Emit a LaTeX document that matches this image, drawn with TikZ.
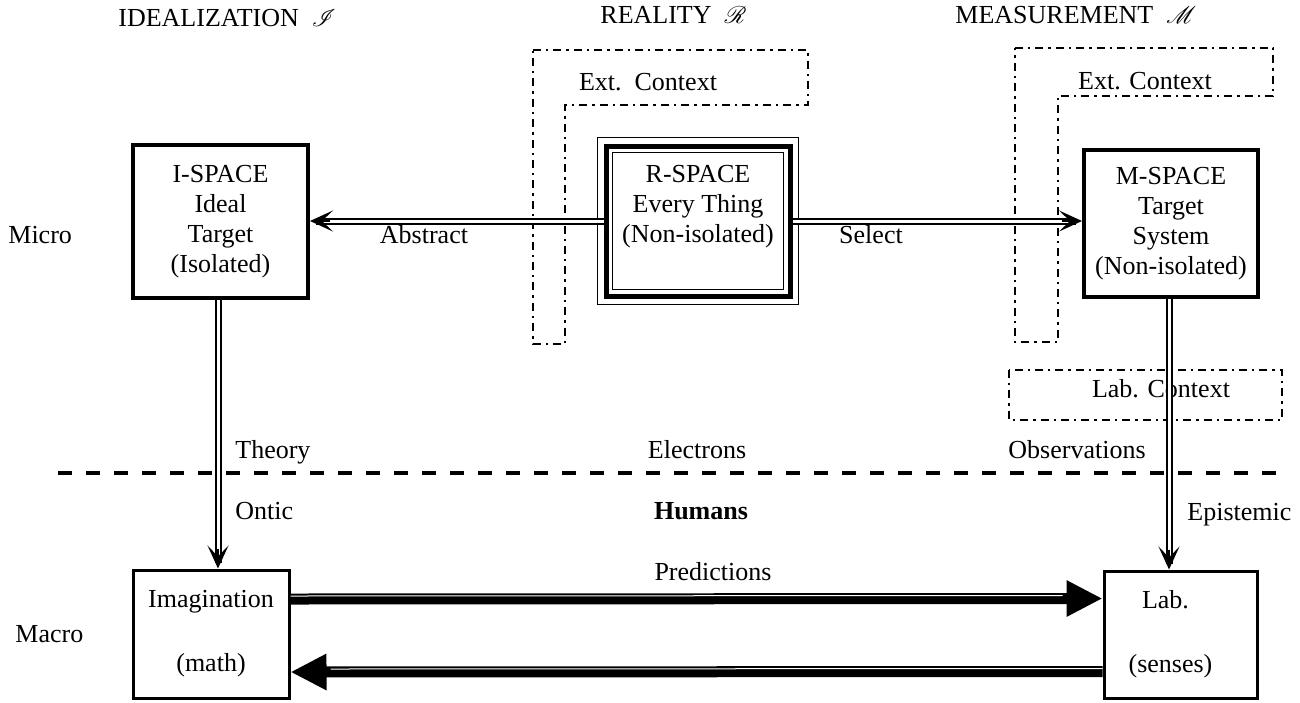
\documentclass[tikz,border=0pt]{standalone}
\usepackage{fontspec}
\setmainfont{Liberation Serif}
\usepackage{mathrsfs}
\usetikzlibrary{arrows.meta,calc}
\begin{document}
\begin{tikzpicture}[x=0.5pt,y=-0.5pt,
  every node/.style={font=\fontsize{13pt}{15pt}\selectfont, inner sep=0pt},
  txt/.style={anchor=base},
  txtl/.style={anchor=base west},
  spacebox/.style={draw, line width=2pt, align=center},
  macrobox/.style={draw, line width=1.5pt, align=center},
  dbl/.style={draw, line width=1pt, double, double distance=1.5pt},
  barb/.style={line width=1pt, -{Stealth[length=11.5pt,width=10.5pt,inset=5.5pt]}},
  ctx/.style={line width=1.2pt, dash pattern=on 4pt off 2.5pt on 1.2pt off 2.5pt},
  bigline/.style={line width=5.5pt},
  gapline/.style={white, line width=0.5pt},
  bighead/.style={-{Triangle[length=18pt,width=17pt]}},
  sep/.style={line width=2pt, dash pattern=on 7pt off 7pt}
]
\useasboundingbox (0,0) rectangle (1300,702);

% titles
\node[txtl] (tI) at (118,26) {IDEALIZATION\ \ $\mathscr{I}$};
\node[txtl] (tR) at (600,23) {REALITY\ \ $\mathscr{R}$};
\node[txtl] (tM) at (955,23) {MEASUREMENT\ \ $\mathscr{M}$};

% side labels
\node[txtl] (micro) at (8,243) {Micro};
\node[txtl] (macro) at (15,642) {Macro};

% context shapes
\draw[ctx] (533,50) -- (808,50) -- (808,105) -- (565,105) -- (565,344) -- (533,344) -- cycle;
\node[txt] (extR) at (648,90) {Ext.\ \ Context};
\draw[ctx] (1015,48) -- (1273,48) -- (1273,96) -- (1058,96) -- (1058,342) -- (1015,342) -- cycle;
\node[txt] (extM) at (1145,89) {Ext. Context};
\draw[ctx] (1009,370) rectangle (1282,420);
\node[txt] (labctx) at (1161,397) {Lab. Context};

% space boxes
\node[spacebox, minimum width=87.5pt, minimum height=76.5pt] (I) at (220.5,221.5)
  {I-SPACE\\Ideal\\Target\\(Isolated)};
\node[spacebox, line width=2.5pt, minimum width=92pt, minimum height=75pt] (R) at (698,221)
  {R-SPACE\\Every Thing\\(Non-isolated)\\[2.5pt]\mbox{}};
\draw[line width=0.75pt] ([shift={(-6,-6)}]R.north west) rectangle ([shift={(6,6)}]R.south east);
\draw[line width=0.75pt] ([shift={(9,9)}]R.north west) rectangle ([shift={(-9,-9)}]R.south east);
\node[spacebox, minimum width=87pt, minimum height=73.5pt] (M) at (1171,223.5)
  {M-SPACE\\Target\\System\\(Non-isolated)};

% macro boxes
\node[macrobox, minimum width=78pt, minimum height=64pt] (Im) at (211,634)
  {Imagination\\[17pt](math)};
\node[macrobox, minimum width=76.5pt, minimum height=63.5pt] (Lab) at (1180.5,634.5)
  {\hspace*{-15pt}Lab.\\[17pt]\hspace*{-10pt}(senses)};

% separator
\coordinate (dl) at (58,473);
\coordinate (dr) at (1285,473);
\draw[sep] (dl) -- (dr);

% Abstract
\draw[dbl] (R.west) -- ([shift={(6,0)}]I.east |- R.west);
\draw[barb] ([shift={(20,0)}]I.east |- R.west) -- (I.east |- R.west);
\node[txt] (abs) at (424,243) {Abstract};

% Select
\draw[dbl] (R.east) -- ([shift={(-6,0)}]M.west |- R.east);
\draw[barb] ([shift={(-20,0)}]M.west |- R.east) -- (M.west |- R.east);
\node[txt] (sel) at (871,243) {Select};

% Theory / Ontic
\draw[dbl] ([shift={(-2.5,0)}]I.south) -- ([shift={(-2.5,-6)}]I.south |- Im.north);
\draw[barb] ([shift={(-2.5,-20)}]I.south |- Im.north) -- ([shift={(-2.5,0)}]I.south |- Im.north);
\node[txtl] (theory) at (235,458) {Theory};
\node[txtl] (ontic) at (235,519) {Ontic};

% Observations / Epistemic
\draw[dbl] ([shift={(-2,0)}]M.south) -- ([shift={(-2,-6)}]M.south |- Lab.north);
\draw[barb] ([shift={(-2,-20)}]M.south |- Lab.north) -- ([shift={(-2,0)}]M.south |- Lab.north);
\node[txtl] (obs) at (1008,458) {Observations};
\node[txtl] (epi) at (1187,520) {Epistemic};

% middle labels
\node[txt] (elec) at (697,458) {Electrons};
\node[txt, font=\fontsize{13pt}{15pt}\selectfont\bfseries] (hum) at (701,519) {Humans};
\node[txt] (pred) at (713,580) {Predictions};

% Predictions arrow
\draw[bigline, bighead] ([shift={(0,-35)}]Im.east) -- ([shift={(0,-36)}]Lab.west);
\draw[gapline] ([shift={(0,-38)}]Im.east) -- ([shift={(-40,-39)}]Lab.west);

% return arrow
\draw[bigline, bighead] ([shift={(0,37)}]Lab.west) -- ([shift={(0,38)}]Im.east);
\draw[gapline] ([shift={(0,34)}]Lab.west) -- ([shift={(40,35)}]Im.east);
\end{tikzpicture}
\end{document}
